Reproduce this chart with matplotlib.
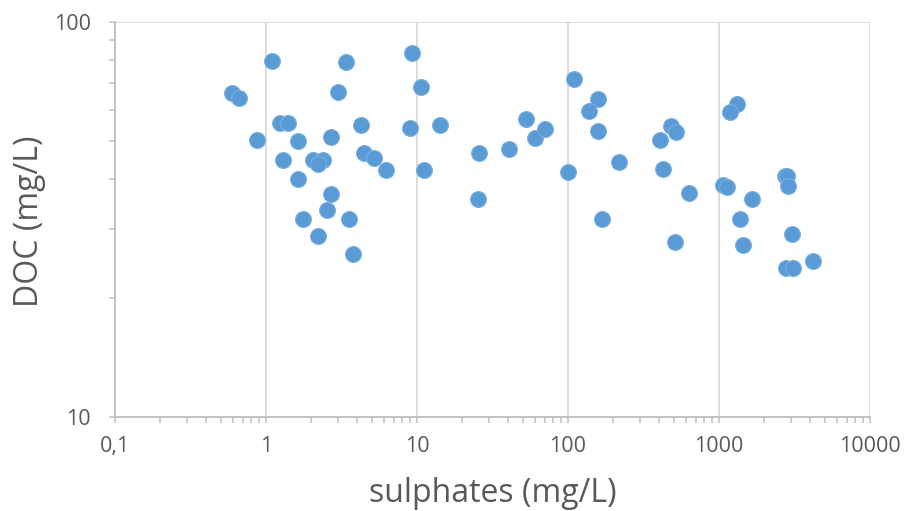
import matplotlib
matplotlib.use("Agg")
import matplotlib.pyplot as plt
from matplotlib.ticker import FixedLocator, FixedFormatter, LogLocator, NullFormatter

sulphates = [0.598, 0.666, 1.09, 3.37, 9.23, 10.6, 3.01, 1.24, 1.39, 4.24,
             8.99, 14.1, 0.868, 1.62, 2.70, 1.30, 2.06, 2.37, 2.20, 4.46,
             5.21, 6.23, 11.1, 1.62, 2.71, 2.52, 1.75, 3.55, 2.21, 3.77,
             25.9, 25.5, 40.7, 52.5, 60.2, 70.4, 109.6, 100.5, 157, 137,
             157, 218, 169, 479, 519, 409, 426, 630, 513, 1310,
             1188, 1064, 1135, 1662, 1377, 1448, 2724, 2820, 2877, 3044,
             2779, 3105, 4174]
doc = [66.0, 64.1, 79.6, 79.1, 83.3, 68.4, 66.5, 55.6, 55.6, 54.8,
       54.0, 54.8, 50.3, 49.9, 51.2, 44.8, 44.7, 44.7, 43.7, 46.6,
       45.3, 42.2, 42.2, 40.0, 36.6, 33.5, 31.8, 31.8, 28.8, 25.8,
       46.6, 35.6, 47.7, 56.9, 50.8, 53.6, 71.7, 41.6, 63.7, 59.5,
       53.1, 44.2, 31.8, 54.5, 52.8, 50.3, 42.5, 37.0, 27.8, 61.9,
       59.1, 38.6, 38.3, 35.6, 31.8, 27.2, 40.8, 40.7, 38.5, 29.1,
       23.8, 23.8, 24.8]

x_ticks = [0.1, 1, 10, 100, 1000, 10000]
x_tick_labels = ["0,1", "1", "10", "100", "1000", "10000"]
y_ticks = [10, 100]
y_tick_labels = ["10", "100"]

plt.rcParams['font.family'] = ['Open Sans', 'DejaVu Sans']
text_color = '#595959'
axis_color = '#bfbfbf'
grid_color = '#d9d9d9'

W, H = 905, 511
fig = plt.figure(figsize=(W/100, H/100), dpi=100)
ax = fig.add_axes([115/W, 1 - 417/H, (870-115)/W, (417-22)/H])

ax.scatter(sulphates, doc, s=130, color='#5B9BD5', edgecolors='#7aaee0',
           linewidths=0.8, zorder=3)

ax.set_xscale('log')
ax.set_yscale('log')
ax.set_xlim(0.1, 10000)
ax.set_ylim(10, 100)

ax.xaxis.set_major_locator(FixedLocator(x_ticks))
ax.xaxis.set_major_formatter(FixedFormatter(x_tick_labels))
ax.xaxis.set_minor_locator(LogLocator(base=10, subs=range(2, 10)))
ax.xaxis.set_minor_formatter(NullFormatter())
ax.yaxis.set_major_locator(FixedLocator(y_ticks))
ax.yaxis.set_major_formatter(FixedFormatter(y_tick_labels))
ax.yaxis.set_minor_locator(LogLocator(base=10, subs=range(2, 10)))
ax.yaxis.set_minor_formatter(NullFormatter())

ax.grid(True, which='major', color=grid_color, linewidth=1.3, zorder=0)
ax.set_axisbelow(True)

for side in ['top', 'right']:
    ax.spines[side].set_visible(False)
for side in ['left', 'bottom']:
    ax.spines[side].set_color(axis_color)
    ax.spines[side].set_linewidth(1.3)

ax.tick_params(which='both', direction='out', color=axis_color, width=1.1,
               labelcolor=text_color, labelsize=15.5, length=4.5)
ax.tick_params(axis='y', which='major', pad=13)
ax.tick_params(axis='x', which='major', pad=9)

fig.text(493/W, 1 - 494/H, 'sulphates (mg/L)', fontsize=23, color=text_color,
         ha='center', va='center')
fig.text(29/W, 1 - 221/H, 'DOC (mg/L)', fontsize=23, color=text_color,
         ha='center', va='center', rotation=90)

fig.savefig('out.png', dpi=100)
